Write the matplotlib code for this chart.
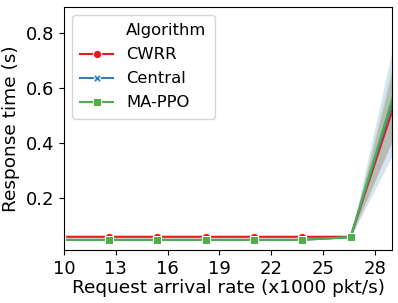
import matplotlib
matplotlib.use("Agg")
import matplotlib.pyplot as plt
from matplotlib.lines import Line2D
import numpy as np

rates = [9.8, 12.6, 15.4, 18.2, 21.0, 23.8, 26.6, 29.4]
cwrr = [0.058, 0.058, 0.058, 0.058, 0.058, 0.058, 0.058, 0.59]
cwrr_lo = [0.057, 0.057, 0.057, 0.057, 0.057, 0.057, 0.057, 0.46]
cwrr_hi = [0.059, 0.059, 0.059, 0.059, 0.059, 0.059, 0.059, 0.75]
central = [0.047, 0.047, 0.047, 0.047, 0.047, 0.047, 0.056, 0.62]
central_lo = [0.046, 0.046, 0.046, 0.046, 0.046, 0.046, 0.055, 0.40]
central_hi = [0.048, 0.048, 0.048, 0.048, 0.048, 0.048, 0.057, 0.85]
mappo = [0.047, 0.047, 0.047, 0.047, 0.047, 0.047, 0.057, 0.64]
mappo_lo = [0.046, 0.046, 0.046, 0.046, 0.046, 0.046, 0.056, 0.47]
mappo_hi = [0.048, 0.048, 0.048, 0.048, 0.048, 0.048, 0.058, 0.78]

labels = ["CWRR", "Central", "MA-PPO"]
colors = ["#e41a1c", "#377eb8", "#4daf4a"]
markers = ["o", "X", "s"]
xticks = [10, 13, 16, 19, 22, 25, 28]

fig = plt.figure(figsize=(3.98, 3.03), dpi=100)
ax = fig.add_axes([0.161, 0.175, 0.824, 0.802])

series = [(cwrr, cwrr_lo, cwrr_hi), (central, central_lo, central_hi), (mappo, mappo_lo, mappo_hi)]
handles = [Line2D([], [], linestyle="none", marker="")]
for (m, lo, hi), lab, c, mk in zip(series, labels, colors, markers):
    ax.fill_between(rates, lo, hi, color=c, alpha=0.2, linewidth=0)
    ax.plot(rates, m, color=c, marker=mk, markersize=6, markeredgecolor="white",
            markeredgewidth=0.75, linewidth=1.5)
    handles.append(Line2D([], [], color=c, marker=mk, markersize=6,
                          markeredgecolor="white", markeredgewidth=0.75, linewidth=1.5))

ax.set_xlim(10, 29)
ax.set_ylim(0.01, 0.894)
ax.set_xticks(xticks)
ax.set_yticks([0.2, 0.4, 0.6, 0.8])
ax.tick_params(labelsize=13)
ax.set_xlabel("Request arrival rate (x1000 pkt/s)", fontsize=13.3, labelpad=1)
ax.set_ylabel("Response time (s)", fontsize=13.3)

ax.legend(handles, ["Algorithm"] + labels, loc="upper left", fontsize=11.8,
          handlelength=2.0, borderaxespad=0.5, labelspacing=0.55, borderpad=0.5)

fig.savefig("out.png", dpi=100)
